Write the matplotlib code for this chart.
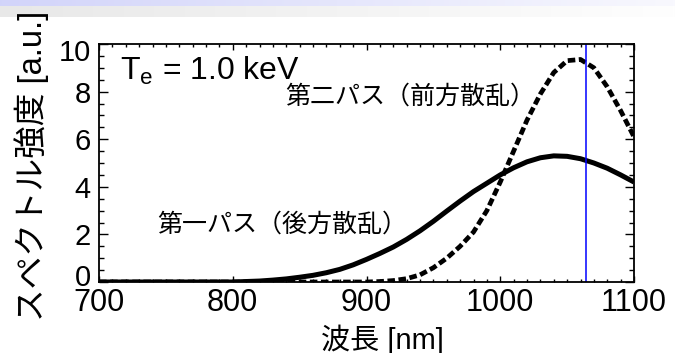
import matplotlib
matplotlib.use('Agg')
import matplotlib.pyplot as plt
import matplotlib.transforms as mtransforms
import numpy as np

# wavelength grid [nm] and spectra
wavelength = [700, 710, 720, 730, 740, 750, 760, 770, 780, 790,
              800, 810, 820, 830, 840, 850, 860, 870, 880, 890,
              900, 910, 920, 930, 940, 950, 960, 970, 980, 990,
              1000, 1010, 1020, 1030, 1040, 1050, 1060, 1070, 1080, 1090, 1100]
first_pass = [0, 0, 0, 0, 0, 0, 0, 0, 0, 0,
              0.0, 0.02, 0.04, 0.08, 0.13, 0.2, 0.28, 0.39, 0.53, 0.72,
              0.95, 1.2, 1.47, 1.79, 2.15, 2.55, 2.98, 3.4, 3.8, 4.15,
              4.5, 4.8, 5.05, 5.22, 5.3, 5.28, 5.18, 5.0, 4.78, 4.5, 4.2]
second_pass = [0, 0, 0, 0, 0, 0, 0, 0, 0, 0,
               0, 0, 0, 0, 0, 0, 0, 0, 0, 0,
               0.0, 0.02, 0.06, 0.14, 0.3, 0.6, 1.0, 1.5, 2.1, 3.0,
               4.2, 5.5, 6.8, 7.9, 8.8, 9.3, 9.35, 9.0, 8.2, 7.2, 6.1]
laser_nm = 1064
xticks = [700, 800, 900, 1000, 1100]
yticks = [0, 2, 4, 6, 8, 10]

plt.rcParams['font.family'] = ['Liberation Sans', 'Noto Sans CJK JP']
plt.rcParams['mathtext.default'] = 'regular'

W, H = 675, 353
fig = plt.figure(figsize=(W / 100, H / 100), dpi=100)

# slide header band
band = np.ones((17, 200, 3))
t = np.linspace(0, 1, 200)
band[:6, :, 0] = (210 + 38 * t) / 255
band[:6, :, 1] = (212 + 36 * t) / 255
band[:6, :, 2] = (250 + 4 * t) / 255
for c in range(3):
    band[6:, :, c] = (232 + 22 * t) / 255
bax = fig.add_axes([0, 1 - 17 / H, 1, 17 / H])
bax.imshow(band, aspect='auto', interpolation='bilinear')
bax.axis('off')

ax = fig.add_axes([99 / W, (H - 282) / H, 535 / W, 238 / H])
ax.plot(wavelength, first_pass, color='black', lw=3.6, solid_capstyle='butt')
ax.plot(wavelength, second_pass, color='black', lw=3.4,
        linestyle=(0, (1.6, 0.75)), dash_capstyle='butt')
ax.axvline(laser_nm, color='#0000ff', lw=1.1)

ax.set_xlim(700, 1100)
ax.set_ylim(0, 10)
ax.set_xticks(xticks)
ax.set_yticks(yticks)
ax.set_xticks(np.arange(700, 1101, 10), minor=True)
ax.set_yticks(np.arange(0, 10.01, 0.5), minor=True)
ax.tick_params(which='both', direction='in', top=True, right=True, width=1.0)
ax.tick_params(axis='x', which='major', length=4.5, pad=4, labelsize=22)
ax.tick_params(axis='x', which='minor', length=2.5)
ax.tick_params(axis='y', which='major', length=6.5, pad=6, labelsize=21)
ax.tick_params(axis='y', which='minor', length=3.5)
for s in ax.spines.values():
    s.set_linewidth(1.3)

# end labels are nudged inside the axis range, as in the original
ylabels = ax.get_yticklabels()
up = mtransforms.ScaledTranslation(0, 7 / 100, fig.dpi_scale_trans)
down = mtransforms.ScaledTranslation(0, -6 / 100, fig.dpi_scale_trans)
ylabels[0].set_transform(ylabels[0].get_transform() + up)
ylabels[-1].set_transform(ylabels[-1].get_transform() + down)

ax.text(120 / W, 1 - 80 / H, 'T$_e$ = 1.0 keV', transform=fig.transFigure,
        fontsize=23, ha='left', va='baseline')
ax.text(535 / W, 1 - 97 / H, '第二パス（前方散乱）', transform=fig.transFigure,
        fontsize=18, ha='right', va='center')
ax.text(157 / W, 1 - 225 / H, '第一パス（後方散乱）', transform=fig.transFigure,
        fontsize=18, ha='left', va='center')

fig.text(32 / W, 1 - 166 / H, 'スペクトル強度 [a.u.]', rotation=90,
         fontsize=23.5, ha='center', va='center')
fig.text(382 / W, 1 - 340 / H, '波長 [nm]', fontsize=21, ha='center', va='center')

fig.savefig('out.png', dpi=100)
